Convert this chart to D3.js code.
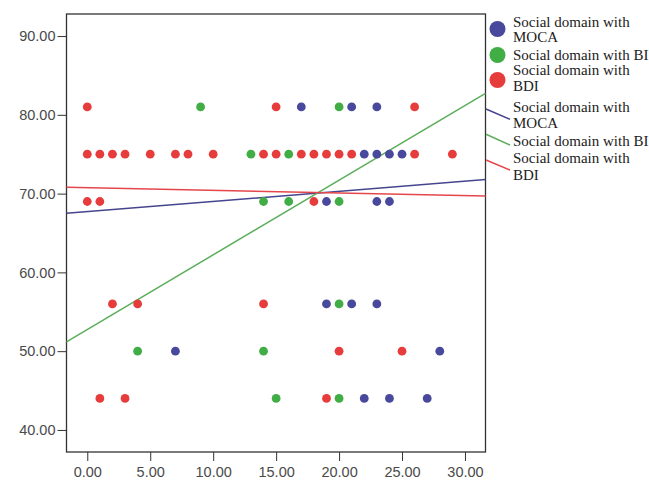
<!DOCTYPE html>
<html>
<head>
<meta charset="utf-8">
<script src="https://cdn.jsdelivr.net/npm/d3@7"></script>
<style>
  body { margin: 0; background: #fff; }
  .tick text { font-family: "Liberation Sans", Arial, sans-serif; font-size: 14.5px; fill: #4a4a4a; }
  .tick line { stroke: #333; }
  .legend text { font-family: "Liberation Serif", "Times New Roman", serif; font-size: 15px; fill: #222; }
</style>
</head>
<body>
<div id="chart"></div>
<script>
// series names (same text for dots and fit lines)
const seriesNames = ["Social domain with MOCA", "Social domain with BI", "Social domain with BDI"];

// MOCA points
const mocaX = [17, 21, 23, 22, 23, 24, 25, 19, 23, 24, 19, 21, 23, 7, 28, 22, 24, 27];
const mocaY = [81, 81, 81, 75, 75, 75, 75, 69, 69, 69, 56, 56, 56, 50, 50, 44, 44, 44];

// BI points
const biX = [9, 20, 13, 16, 14, 16, 20, 20, 4, 14, 15, 20];
const biY = [81, 81, 75, 75, 69, 69, 69, 56, 50, 50, 44, 44];

// BDI points
const bdiX = [0, 15, 26, 0, 1, 2, 3, 5, 7, 8, 10, 14, 15, 17, 18, 19, 20, 21, 26, 29, 0, 1, 18, 2, 4, 14, 20, 25, 1, 3, 19];
const bdiY = [81, 81, 81, 75, 75, 75, 75, 75, 75, 75, 75, 75, 75, 75, 75, 75, 75, 75, 75, 75, 69, 69, 69, 56, 56, 56, 50, 50, 44, 44, 44];

// linear fit lines: y = a + b*x
const fitIntercepts = [67.71, 52.75, 70.75];
const fitSlopes = [0.129, 0.948, -0.033];

const xTicks = [0, 5, 10, 15, 20, 25, 30];
const yTicks = [40, 50, 60, 70, 80, 90];

const dotColors = ["#48489c", "#40ad45", "#e63c3c"];
const lineColors = ["#45458f", "#5aae5a", "#e4474b"];

const width = 649, height = 494;
const margin = { top: 14, left: 66.5, right: 163.5, bottom: 42 };

const svg = d3.select("#chart")
    .append("svg")
    .attr("width", width)
    .attr("height", height);

const xScale = d3.scaleLinear()
    .domain([-1.65, 31.63])
    .range([margin.left, width - margin.right]);

const yScale = d3.scaleLinear()
    .domain([37.2, 92.8])
    .range([height - margin.bottom, margin.top]);

const fmt = d3.format(".2f");

// axes
svg.append("g")
    .attr("class", "axis x-axis")
    .attr("transform", `translate(0,${height - margin.bottom})`)
    .call(d3.axisBottom(xScale).tickValues(xTicks).tickFormat(fmt).tickSize(9).tickPadding(6))
    .call(g => g.select(".domain").remove());

svg.append("g")
    .attr("class", "axis y-axis")
    .attr("transform", `translate(${margin.left},0)`)
    .call(d3.axisLeft(yScale).tickValues(yTicks).tickFormat(fmt).tickSize(9).tickPadding(2))
    .call(g => g.select(".domain").remove());

// frame
svg.append("rect")
    .attr("x", margin.left)
    .attr("y", margin.top)
    .attr("width", width - margin.right - margin.left)
    .attr("height", height - margin.bottom - margin.top)
    .attr("fill", "none")
    .attr("stroke", "#333")
    .attr("stroke-width", 1.3);

const plot = svg.append("g");

// fit lines across the whole x range
const [x0, x1] = xScale.domain();
fitIntercepts.forEach((a, i) => {
    const b = fitSlopes[i];
    plot.append("line")
        .attr("x1", xScale(x0))
        .attr("y1", yScale(a + b * x0))
        .attr("x2", xScale(x1))
        .attr("y2", yScale(a + b * x1))
        .attr("stroke", lineColors[i])
        .attr("stroke-width", 1.5);
});

// dots
const series = [[mocaX, mocaY], [biX, biY], [bdiX, bdiY]];
series.forEach(([xs, ys], i) => {
    plot.selectAll(".dot-" + i)
        .data(xs.map((x, j) => [x, ys[j]]))
        .join("circle")
        .attr("class", "dot-" + i)
        .attr("cx", d => xScale(d[0]))
        .attr("cy", d => yScale(d[1]))
        .attr("r", 4.4)
        .attr("fill", dotColors[i]);
});

// legend
const legend = svg.append("g").attr("class", "legend");
const textX = 513;
// baselines for each entry: first line, wrapped second line (or null)
const dotRows = [[26.7, 42.3], [60, null], [75, 91]];
const lineRows = [[111.7, 128.3], [146, null], [163.3, 180]];
const dotCy = [29, 55, 80];
const lineGlyph = [[109, 119.3], [134.3, 145], [160, 170]];

function labelLines(name, wrapped) {
    if (!wrapped) return [name];
    const k = name.lastIndexOf(" ");
    return [name.slice(0, k), name.slice(k + 1)];
}

seriesNames.forEach((name, i) => {
    legend.append("circle")
        .attr("cx", 497.5)
        .attr("cy", dotCy[i])
        .attr("r", 8)
        .attr("fill", dotColors[i]);
    labelLines(name, dotRows[i][1] !== null).forEach((t, k) => {
        legend.append("text").attr("x", textX).attr("y", dotRows[i][k]).text(t);
    });

    legend.append("line")
        .attr("x1", 486)
        .attr("y1", lineGlyph[i][0])
        .attr("x2", 510)
        .attr("y2", lineGlyph[i][1])
        .attr("stroke", lineColors[i])
        .attr("stroke-width", 1.5);
    labelLines(name, lineRows[i][1] !== null).forEach((t, k) => {
        legend.append("text").attr("x", textX).attr("y", lineRows[i][k]).text(t);
    });
});
</script>
</body>
</html>
